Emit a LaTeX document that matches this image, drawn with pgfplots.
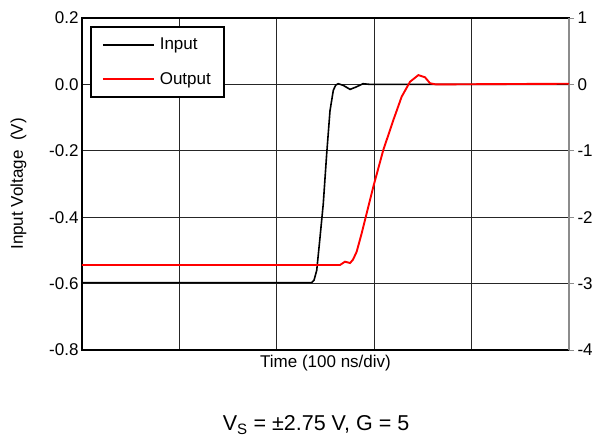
\documentclass[border=0pt]{standalone}
\usepackage{pgfplots}
\pgfplotsset{compat=1.18}
\usepackage{fontspec}
\setmainfont{Liberation Sans}

\begin{document}
\begin{tikzpicture}[font=\fontsize{17}{20}\selectfont]
  \useasboundingbox (-82pt,-89pt) rectangle (521pt,350pt);
  \begin{axis}[
      at={(0,0)}, anchor=south west,
      scale only axis, width=487pt, height=332pt,
      xmin=0, xmax=500, ymin=-0.8, ymax=0.2,
      xtick={0,100,200,300,400,500}, xticklabels={},
      ytick={-0.8,-0.6,-0.4,-0.2,0,0.2},
      /pgf/number format/assume math mode=true,
      yticklabel style={/pgf/number format/fixed, /pgf/number format/fixed zerofill,
        /pgf/number format/precision=1},
      grid=major, major grid style={black!85, line width=0.6pt},
      major tick length=0pt,
      axis line style={line width=1.8pt},
      xlabel={Time (100 ns/div)},
      xlabel style={at={(rel axis cs:0.5,0)}, anchor=north, yshift=-2pt},
      ylabel={Input Voltage\ \ (V)},
      ylabel shift=16pt,
      legend style={name=leg, at={(0,1)}, anchor=north west, xshift=9pt, yshift=-9pt,
        inner xsep=11pt, inner ysep=9pt, row sep=17pt,
        font=\fontsize{17}{20}\selectfont},
      legend cell align=left,
      legend image code/.code={\draw[#1] (0pt,0pt) -- (51pt,0pt); \path (54pt,0pt);},
    ]
    \addplot[black, line width=1.6pt] coordinates {
      (0,-0.597) (235.8,-0.597) (238.2,-0.590) (241,-0.56) (244.4,-0.46)
      (247.7,-0.36) (251.2,-0.21) (254.6,-0.08) (258,-0.018) (260.5,-0.002)
      (263.1,0.002) (268.3,-0.003) (275.2,-0.015) (281.3,-0.008) (288.5,0.002)
      (295.7,0.0) (500,0.0)
    };
    \addlegendentry{Input}
    \addlegendimage{red, line width=1.6pt}
    \addlegendentry{Output}
  \end{axis}
  \draw[line width=1.6pt] (leg.south west) rectangle (leg.north east);
  \begin{axis}[
      at={(0,0)}, anchor=south west,
      scale only axis, width=487pt, height=332pt,
      xmin=0, xmax=500, ymin=-4, ymax=1,
      axis x line=none, axis y line*=right,
      y axis line style={draw=black!45, line width=1.8pt},
      ytick={-4,-3,-2,-1,0,1},
      tick align=outside, major tick length=5pt,
      ytick style={black!45, line width=0.8pt},
      /pgf/number format/assume math mode=true,
    ]
    \addplot[red, line width=1.9pt] coordinates {
      (0,-2.72) (264.9,-2.72) (270,-2.67) (275.2,-2.69) (278.2,-2.64)
      (282,-2.52) (287.2,-2.24) (292.3,-1.94) (299.1,-1.54) (309.3,-0.99)
      (319.6,-0.54) (328.2,-0.185) (336.8,0.04) (345.3,0.14) (352.2,0.107)
      (357.3,0.017) (363.4,0.0) (500,0.01)
    };
  \end{axis}
  \node[font=\fontsize{21.5}{25}\selectfont] at (234pt,-75pt) {V\textsubscript{S} = ±2.75 V, G = 5};
\end{tikzpicture}
\end{document}
